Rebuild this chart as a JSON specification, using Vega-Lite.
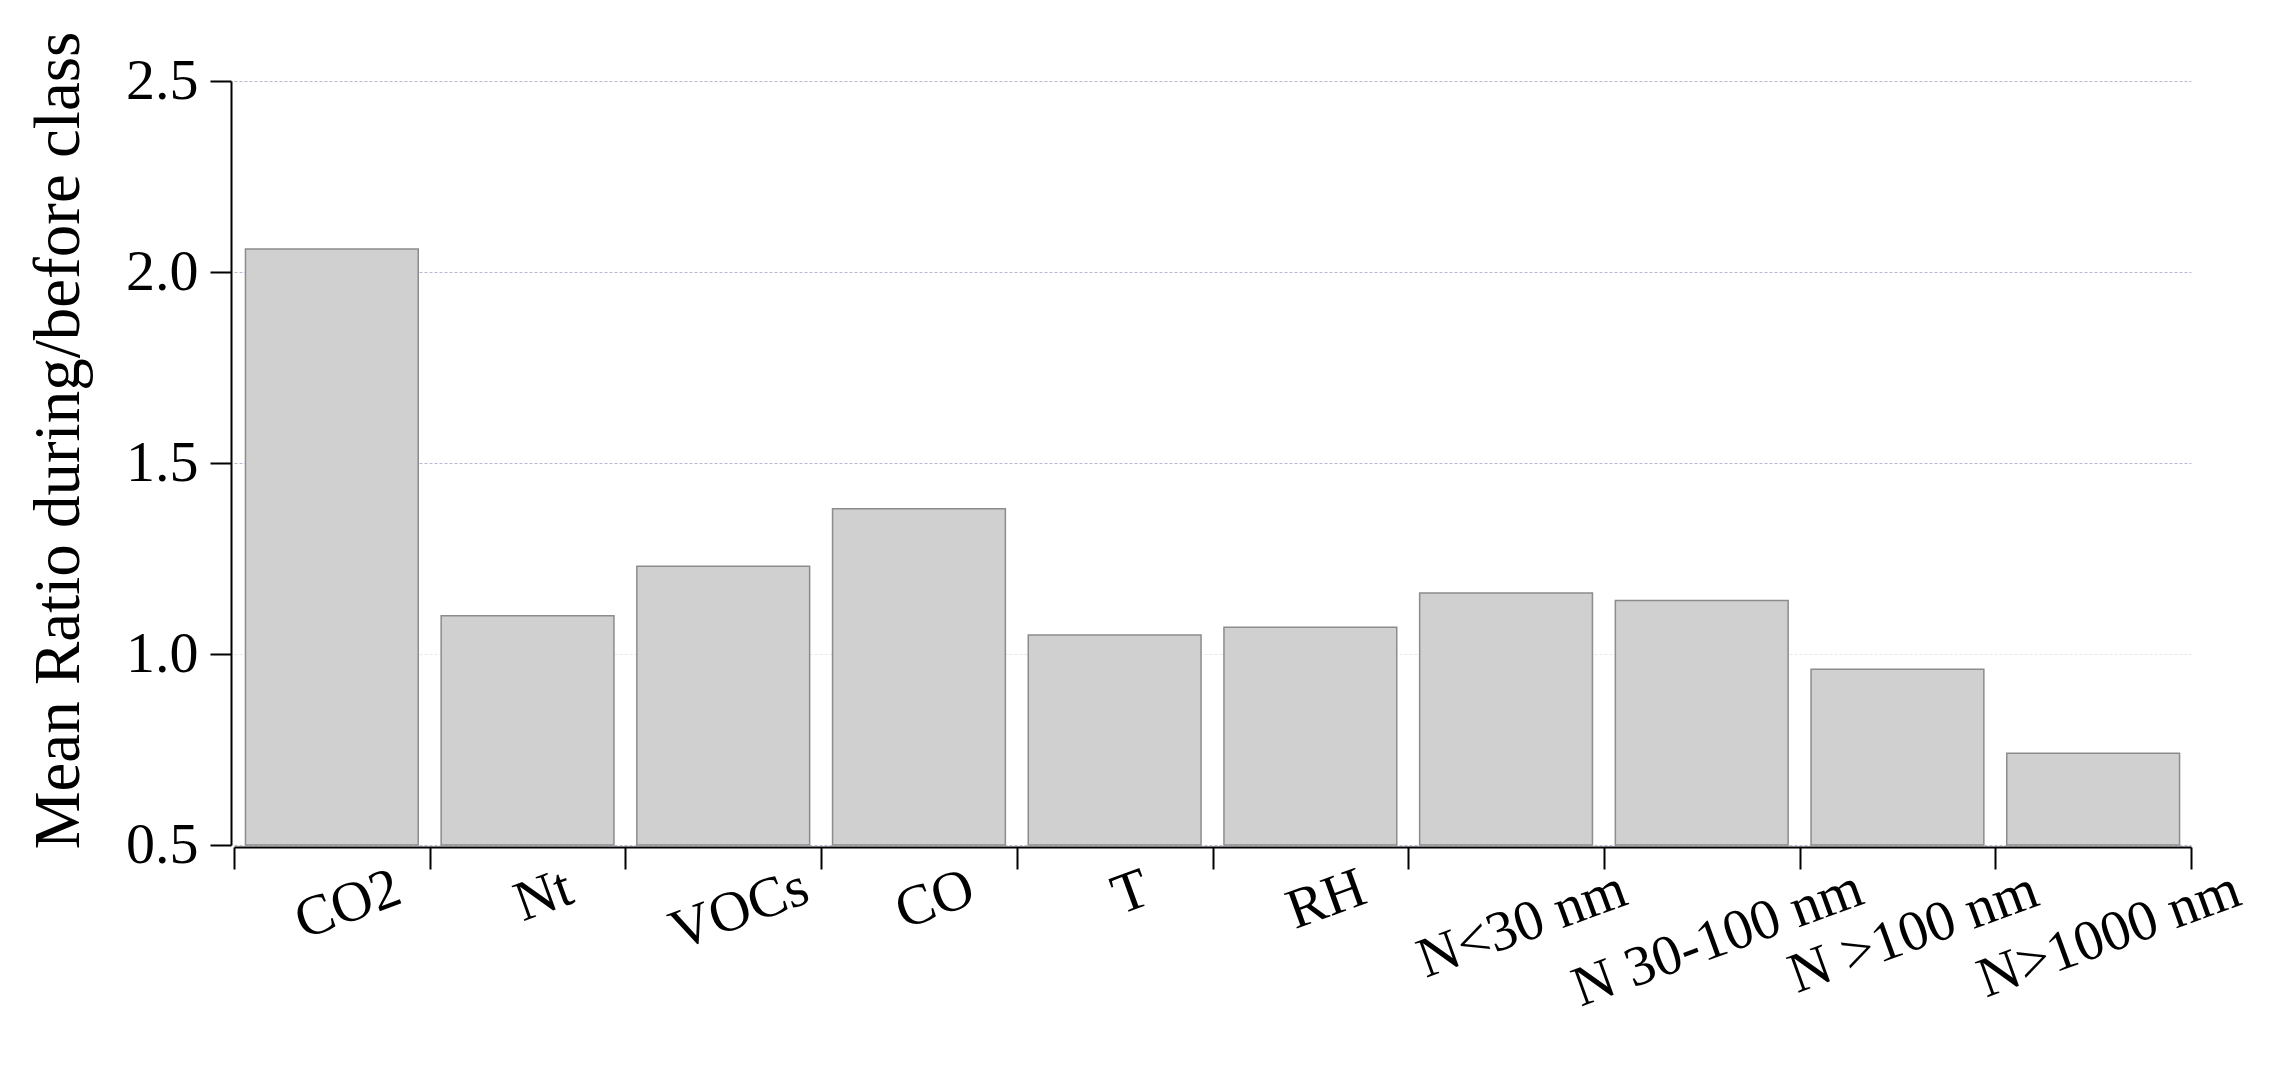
{
  "$schema": "https://vega.github.io/schema/vega-lite/v6.json",
  "width": 1957,
  "height": 764,
  "autosize": {"type": "none"},
  "padding": {"left": 234, "top": 81, "right": 78, "bottom": 244},
  "background": "white",
  "config": {
    "view": {"stroke": null},
    "font": "Liberation Serif"
  },
  "data": {
    "values": [
      {"variable": "CO2", "ratio": 2.06},
      {"variable": "Nt", "ratio": 1.10},
      {"variable": "VOCs", "ratio": 1.23},
      {"variable": "CO", "ratio": 1.38},
      {"variable": "T", "ratio": 1.05},
      {"variable": "RH", "ratio": 1.07},
      {"variable": "N<30 nm", "ratio": 1.16},
      {"variable": "N 30-100 nm", "ratio": 1.14},
      {"variable": "N >100 nm", "ratio": 0.96},
      {"variable": "N>1000 nm", "ratio": 0.74}
    ]
  },
  "mark": {"type": "bar", "fill": "#d0d0d0", "stroke": "#8c8c8c", "strokeWidth": 1.5, "width": {"band": 0.883}},
  "encoding": {
    "x": {
      "field": "variable",
      "type": "nominal",
      "sort": null,
      "scale": {"paddingInner": 0, "paddingOuter": 0},
      "axis": {
        "title": null,
        "offset": 2,
        "domainColor": "black",
        "domainWidth": 2,
        "tickColor": "black",
        "tickWidth": 2,
        "tickSize": 22,
        "tickBand": "extent",
        "labelFont": "Liberation Serif",
        "labelFontSize": 57,
        "labelColor": "black",
        "labelAngle": -20,
        "labelAlign": "center",
        "labelBaseline": "top",
        "labelOffset": 6,
        "labelOverlap": false,
        "labelBound": false,
        "labelFlush": false,
        "labelLimit": 2000,
        "labelPadding": {
          "condition": [
            {"test": "datum.value === 'CO2'", "value": 9},
            {"test": "datum.value === 'Nt'", "value": 0},
            {"test": "datum.value === 'VOCs'", "value": 14},
            {"test": "datum.value === 'CO'", "value": 4},
            {"test": "datum.value === 'T'", "value": -3},
            {"test": "datum.value === 'RH'", "value": 4},
            {"test": "datum.value === 'N<30 nm'", "value": 29},
            {"test": "datum.value === 'N 30-100 nm'", "value": 43},
            {"test": "datum.value === 'N >100 nm'", "value": 37},
            {"test": "datum.value === 'N>1000 nm'", "value": 39}
          ],
          "value": 10
        }
      }
    },
    "y": {
      "field": "ratio",
      "type": "quantitative",
      "scale": {"domain": [0.5, 2.5], "zero": false, "nice": false},
      "axis": {
        "title": "Mean Ratio during/before class",
        "titleFont": "Liberation Serif",
        "titleFontSize": 65,
        "titleFontWeight": "normal",
        "titleColor": "black",
        "titleBaseline": "alphabetic",
        "titleAlign": "center",
        "titleAngle": -90,
        "titleX": -153,
        "titleY": 359,
        "offset": 3,
        "values": [0.5, 1, 1.5, 2, 2.5],
        "format": ".1f",
        "domainColor": "black",
        "domainWidth": 2,
        "tickColor": "black",
        "tickWidth": 2,
        "tickSize": 21,
        "labelFont": "Liberation Serif",
        "labelFontSize": 58,
        "labelColor": "black",
        "labelPadding": 12,
        "labelBaseline": "middle",
        "grid": true,
        "gridDash": [3, 2],
        "gridWidth": 1,
        "gridColor": {
          "condition": {"test": "datum.value === 1", "value": "#e8e8e8"},
          "value": "#b8b8d4"
        }
      }
    },
    "y2": {"datum": 0.5}
  }
}
